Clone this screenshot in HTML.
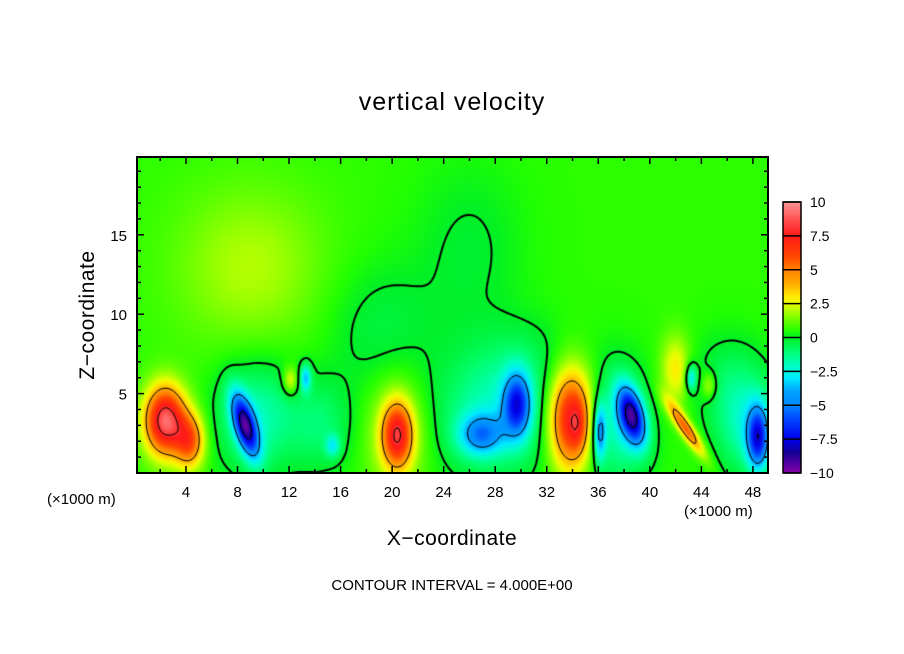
<!DOCTYPE html>
<html><head><meta charset="utf-8">
<style>
body{margin:0;background:#fff;width:904px;height:654px;overflow:hidden;position:relative;font-family:"Liberation Sans","DejaVu Sans",sans-serif;}
.t{position:absolute;color:#000;white-space:nowrap;}
canvas{position:absolute;}
</style></head>
<body>
<div class="t" style="left:0;width:904px;top:88px;text-align:center;font-size:25px;letter-spacing:1px">vertical velocity</div>
<canvas id="plot" width="631" height="316" style="left:137px;top:157px"></canvas>
<svg id="axes" width="904" height="654" style="position:absolute;left:0;top:0"></svg>
<div class="t" style="left:23px;top:303px;font-size:21px;transform:rotate(-90deg);transform-origin:center;width:130px;text-align:center;letter-spacing:0.5px">Z−coordinate</div>
<div class="t" style="left:0;width:904px;top:527px;text-align:center;font-size:21px;letter-spacing:0.5px">X−coordinate</div>
<div class="t" style="left:47px;top:491px;font-size:15px">(×1000 m)</div>
<div class="t" style="left:684px;top:503px;font-size:15px">(×1000 m)</div>
<div class="t" style="left:0;width:904px;top:577px;text-align:center;font-size:15px">CONTOUR INTERVAL = 4.000E+00</div>
<script>
// ---- data ----
const xTicks = [4,8,12,16,20,24,28,32,36,40,44,48];
const zTicks = [5,10,15];
const cbTicks = [10,7.5,5,2.5,0,-2.5,-5,-7.5,-10];
const cbLabels = ["10","7.5","5","2.5","0","−2.5","−5","−7.5","−10"];
const contourLevels = [-8,-4,0,4,8];
const baseValue = 0.6;
// features: centre x, centre z, amplitude, width x, width z, tilt
const featX   = [2.4,4.3,8.6,9.5,13.3,12.1,15.4,14.5,20.4,20.4,26.9,29.7,28,33.9,34.4,36.1,38.6,42.8,42,43.2,44.6,48.4,47.5,37.5,9,19,26,30,46];
const featZ   = [3.3,2.0,3.0,3.5,6.0,5.8,1.7,3,2.4,2.5,2.4,4.3,3.5,3.4,3.0,2.6,3.6,2.8,6.5,6.0,5.5,2.2,3,3,13,9,14,7,6];
const featAmp = [8.5,5,-8,-2.5,-3.5,2.5,-2.5,-1.5,6,2,-4,-6,-2.5,7.5,1.5,-4.5,-8,5,2.5,-3.5,2,-6.5,-2.5,-2.5,1.4,-0.9,-0.7,-0.8,-1];
const featSx  = [1.1,0.8,0.6,2.2,0.3,0.4,0.4,1.7,0.8,1.6,1.2,0.75,3.2,1.2,0.4,0.35,0.7,0.45,0.8,0.3,0.4,0.6,1.7,1.7,4,3,3,3,2];
const featSz  = [1.5,1.2,1.4,2.4,0.6,0.6,0.5,2,1.4,2.5,0.9,1.4,2.6,2.2,1,1.3,1.3,1.2,1.5,0.6,0.6,1.4,2.2,2.6,3.5,3,4,2,2];
const featTilt= [0,0,-0.31,0,0,0,0,0,0,0,0,0,0,0,0,0,-0.25,-0.77,0,0,0,0,0,0,0,0,0,0,0];

// ---- axis functions ----
const PX0=137,PY0=157,PW=631,PH=316;
const X0=0.2,X1=49.17,Z0=0,Z1=19.9;
const sx=x=>PX0+(x-X0)/(X1-X0)*PW;
const sz=z=>PY0+PH-(z-Z0)/(Z1-Z0)*PH;
const cbTop=202,cbBot=473;
const cbY=v=>cbTop+(10-v)/20*(cbBot-cbTop);

const stops=[[-10,[136,0,170]],[-8.5,[20,0,150]],[-7.5,[0,0,235]],[-6,[0,70,255]],[-5,[0,136,255]],[-4,[0,160,255]],[-3,[0,235,255]],[-2,[0,255,190]],[-1,[0,255,110]],[0,[0,240,40]],[0.5,[34,255,0]],[1.5,[130,255,0]],[2.5,[230,255,0]],[3,[255,235,0]],[4,[255,170,0]],[5,[255,130,0]],[6,[255,70,0]],[7.5,[255,25,25]],[8.5,[255,70,70]],[10,[255,150,150]],[11,[255,255,255]]];
function color(v){
  if(v<=stops[0][0])return stops[0][1];
  for(let i=1;i<stops.length;i++){if(v<=stops[i][0]){const a=stops[i-1],b=stops[i],t=(v-a[0])/(b[0]-a[0]);return a[1].map((c,k)=>c+(b[1][k]-c)*t);}}
  return stops[stops.length-1][1];
}
function field(x,z){
  let v=baseValue;
  for(let i=0;i<featX.length;i++){
    const dx=(x-featX[i]-featTilt[i]*(z-featZ[i]))/featSx[i],dz=(z-featZ[i])/featSz[i];
    v+=featAmp[i]*Math.exp(-0.5*(dx*dx+dz*dz));
  }
  return v;
}
const ctx=document.getElementById('plot').getContext('2d');
const img=ctx.createImageData(PW,PH);
for(let j=0;j<PH;j++){const z=Z1-(j+0.5)/PH*(Z1-Z0);
  for(let i=0;i<PW;i++){const x=X0+(i+0.5)/PW*(X1-X0);const c=color(field(x,z));const k=(j*PW+i)*4;
    img.data[k]=c[0];img.data[k+1]=c[1];img.data[k+2]=c[2];img.data[k+3]=255;}}
ctx.putImageData(img,0,0);
// contours (marching squares)
const st=3,nx=Math.ceil(PW/st)+1,ny=Math.ceil(PH/st)+1,G=[];
for(let j=0;j<ny;j++){G[j]=[];for(let i=0;i<nx;i++){G[j][i]=field(X0+i*st/PW*(X1-X0),Z1-j*st/PH*(Z1-Z0));}}
contourLevels.forEach(L=>{
  ctx.beginPath();ctx.strokeStyle='#000';ctx.lineWidth=L===0?2:1;ctx.setLineDash(L<0?[4,3]:[]);
  for(let j=0;j<ny-1;j++)for(let i=0;i<nx-1;i++){
    const a=G[j][i],b=G[j][i+1],c=G[j+1][i+1],d=G[j+1][i];const pts=[];
    const e=(p,q,x1,y1,x2,y2)=>{if((p<L)!==(q<L)){const t=(L-p)/(q-p);pts.push([x1+(x2-x1)*t,y1+(y2-y1)*t]);}};
    const X=i*st,Y=j*st;
    e(a,b,X,Y,X+st,Y);e(b,c,X+st,Y,X+st,Y+st);e(d,c,X,Y+st,X+st,Y+st);e(a,d,X,Y,X,Y+st);
    for(let k=0;k+1<pts.length;k+=2){ctx.moveTo(pts[k][0],pts[k][1]);ctx.lineTo(pts[k+1][0],pts[k+1][1]);}
  }
  ctx.stroke();
});
// axes svg
const svg=document.getElementById('axes');const NS='http://www.w3.org/2000/svg';
function mk(t,at,par){const e=document.createElementNS(NS,t);for(const k in at)e.setAttribute(k,at[k]);(par||svg).appendChild(e);return e;}
const frame=mk('rect',{x:PX0,y:PY0,width:PW,height:PH,fill:'none',stroke:'#000','stroke-width':2});


for(let x=2;x<=48;x+=2){const L=x%4===0?7:4;
  mk('line',{x1:sx(x),x2:sx(x),y1:PY0+PH,y2:PY0+PH-L,stroke:'#000','stroke-width':1.5});
  mk('line',{x1:sx(x),x2:sx(x),y1:PY0,y2:PY0+L,stroke:'#000','stroke-width':1.5});}
for(let z=1;z<=19;z++){const L=z%5===0?7:4;
  mk('line',{x1:PX0,x2:PX0+L,y1:sz(z),y2:sz(z),stroke:'#000','stroke-width':1.5});
  mk('line',{x1:PX0+PW,x2:PX0+PW-L,y1:sz(z),y2:sz(z),stroke:'#000','stroke-width':1.5});}
xTicks.forEach(v=>{const t=mk('text',{x:sx(v),y:497,'text-anchor':'middle','font-size':15,'font-family':'Liberation Sans,sans-serif'});t.textContent=v;
  
  });
zTicks.forEach(v=>{const t=mk('text',{x:127,y:sz(v)+6,'text-anchor':'end','font-size':15,'font-family':'Liberation Sans,sans-serif'});t.textContent=v;
  
  });
// colorbar
const cbg=mk('g',{});


for(let y=cbTop;y<cbBot;y+=1){const v=10-(y+0.5-cbTop)/(cbBot-cbTop)*20;const c=color(Math.min(v,10));
  mk('rect',{x:783,y:y,width:18,height:1.2,fill:`rgb(${c.map(Math.round).join(',')})`},cbg);}
cbTicks.forEach((v,i)=>{mk('line',{x1:783,x2:801,y1:cbY(v),y2:cbY(v),stroke:'#000','stroke-width':1.5},cbg);
  const t=mk('text',{x:810,y:cbY(v)+5,'font-size':14,'font-family':'Liberation Sans,sans-serif'},cbg);t.textContent=cbLabels[i];
  
  });
mk('rect',{x:783,y:cbTop,width:18,height:cbBot-cbTop,fill:'none',stroke:'#000','stroke-width':1.5},cbg);
</script>
</body></html>
